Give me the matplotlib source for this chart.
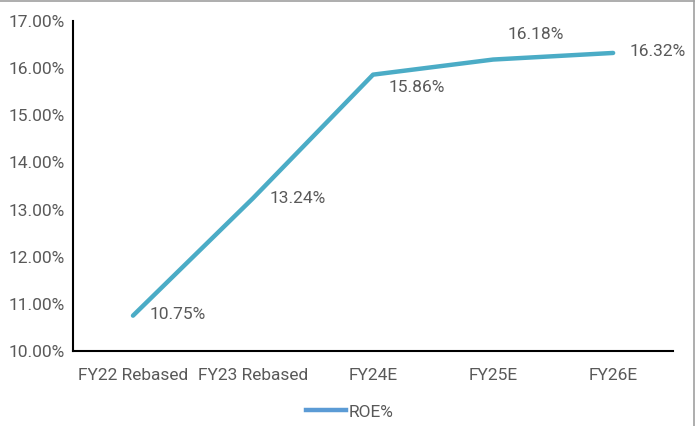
import matplotlib
matplotlib.use('Agg')
import matplotlib.pyplot as plt
from matplotlib.lines import Line2D
from matplotlib.ticker import FuncFormatter

categories = ['FY22 Rebased', 'FY23 Rebased', 'FY24E', 'FY25E', 'FY26E']
roe = [10.75, 13.24, 15.86, 16.18, 16.32]
# data label offsets in points (dx, dy) and horizontal alignment
label_offsets = [(12, 1), (12, 0), (11.5, -9.5), (31, 18), (11.5, 1)]
label_ha = ['left', 'left', 'left', 'center', 'left']

plt.rcParams['font.family'] = ['Roboto', 'DejaVu Sans']
TXT = '#595959'
LINE = '#4BACC6'

fig = plt.figure(figsize=(6.99, 4.26), dpi=100)
ax = fig.add_axes([0.1044, 0.176, 0.8586, 0.775])
x = range(len(categories))
ax.plot(x, roe, color=LINE, lw=3.2, solid_capstyle='round', label='ROE%')
ax.set_xlim(-0.5, len(categories) - 0.5)
ax.set_ylim(10, 17)
ax.set_yticks(range(10, 18))
ax.yaxis.set_major_formatter(FuncFormatter(lambda v, p: f'{v:.2f}%'))
ax.set_xticks(list(x))
ax.set_xticklabels(categories)
ax.tick_params(axis='both', length=0, labelsize=12.5, colors=TXT, pad=6)
ax.tick_params(axis='x', pad=12)
for sp in ['top', 'right']:
    ax.spines[sp].set_visible(False)
for sp in ['left', 'bottom']:
    ax.spines[sp].set_color('black')
    ax.spines[sp].set_linewidth(1.5)

for i, v in enumerate(roe):
    ax.annotate(f'{v:.2f}%', (i, v), xytext=label_offsets[i], textcoords='offset points',
                ha=label_ha[i], va='center', fontsize=12.5, color=TXT)

leg_h = [Line2D([0], [0], color='#5B9BD5', lw=3.2)]
fig.legend(leg_h, ['ROE%'], loc='center', bbox_to_anchor=(0.501, 0.033), frameon=False,
           fontsize=12.5, labelcolor=TXT, handlelength=2.3, handletextpad=0.15)

# outer chart border (only top and right edges visible in the crop)
fig.add_artist(Line2D([0, 694 / 699], [0.998, 0.998], transform=fig.transFigure, color='#a0a0a0', lw=1.2))
fig.add_artist(Line2D([694 / 699, 694 / 699], [0, 0.998], transform=fig.transFigure, color='#a0a0a0', lw=1.2))

fig.savefig('out.png', dpi=100)
